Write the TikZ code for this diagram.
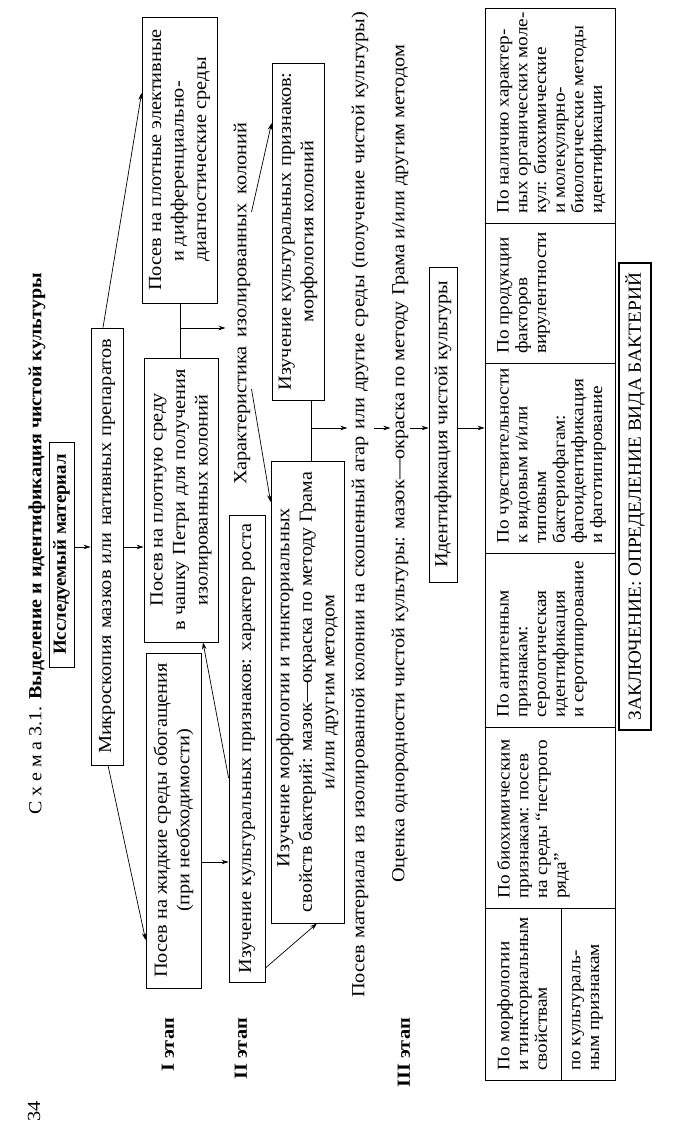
\documentclass[tikz,border=0pt]{standalone}
\usepackage{fontspec}
\usepackage{graphicx}
\setmainfont{Liberation Serif}[FakeStretch=1.1]
\usetikzlibrary{arrows.meta,calc}
\newsavebox\fitbx
\newcommand\fitto[2]{\sbox\fitbx{#2}\ifdim\wd\fitbx<#1\relax\makebox[#1][s]{#2}\else\resizebox{#1}{\ht\fitbx}{#2}\fi}
\begin{document}
\begin{tikzpicture}
\useasboundingbox (0,0) rectangle (676pt,1134pt);
\fill[white] (0,0) rectangle (676pt,1134pt);
\begin{scope}[x=1pt,y=-1pt,rotate=90,transform shape,
  box/.style={draw,line width=0.8pt,inner sep=0pt,align=center,font=\fontsize{18.5}{22.5}\selectfont},
  lbl/.style={inner sep=1pt,font=\fontsize{18.5}{22.5}\selectfont},
  tcell/.style={anchor=north west,inner sep=0pt,align=left,font=\fontsize{17.5}{18.7}\selectfont},
  arr/.style={-{Stealth[length=7pt,width=4.5pt]},line width=0.7pt},
  ln/.style={line width=0.7pt}]
% title and stages
\node[lbl] (title) at (590,37) {\fitto{542pt}{С х е м а 3.1. \textbf{Выделение и идентификация чистой культуры}}};
\node[lbl] (pg) at (22.5,34) {34};
\node[lbl,anchor=east,font=\fontsize{18.5}{22.5}\selectfont\bfseries] (st1) at (117,168) {I этап};
\node[lbl,anchor=east,font=\fontsize{18.5}{22.5}\selectfont\bfseries] (st2) at (117,241) {II этап};
\node[lbl,anchor=east,font=\fontsize{18.5}{22.5}\selectfont\bfseries] (st3) at (117,404) {III этап};
% boxes
\node[box,minimum width=225pt,minimum height=25pt,font=\fontsize{18.5}{22.5}\selectfont\bfseries] (ism) at (579.5,61.5) {\fitto{201pt}{Исследуемый материал}};
\node[box,minimum width=437pt,minimum height=32pt] (micro) at (587.5,107) {\fitto{415pt}{Микроскопия мазков или нативных препаратов}};
\node[box,minimum width=335pt,minimum height=55pt] (zhid) at (313.5,173.5) {\fitto{315pt}{Посев на жидкие среды обогащения}\\(при необходимости)};
\node[box,minimum width=284pt,minimum height=74pt] (petri) at (634,181) {Посев на плотную среду\\\fitto{262pt}{в чашку Петри для получения}\\изолированных колоний};
\node[box,align=left,minimum width=286pt,minimum height=75pt] (plot) at (974,179.5) {\fitto{262pt}{Посев на плотные элективные}\\\hspace*{29pt}и дифференциально-\\\hspace*{29pt}диагностические среды};
\node[box,minimum width=467pt,minimum height=36pt] (rost) at (385.5,247) {\fitto{450pt}{Изучение культуральных признаков: характер роста}};
\node[box,align=left,minimum width=462pt,minimum height=73pt] (morf) at (442,307.5) {\hspace*{45pt}Изучение морфологии и тинкториальных\\\fitto{440pt}{свойств бактерий: мазок—окраска по методу Грама}\\\makebox[440pt][c]{и/или другим методом}};
\node[box,minimum width=337pt,minimum height=52pt] (kol) at (902.5,298) {\fitto{318pt}{Изучение культуральных признаков:}\\морфология колоний};
\node[lbl] (har) at (830,242) {\fitto{362pt}{Характеристика изолированных колоний}};
\node[lbl] (posmat) at (629,360) {\fitto{986pt}{Посев материала из изолированной колонии на скошенный агар или другие среды (получение чистой культуры)}};
\node[lbl] (ocen) at (670,400) {\fitto{838pt}{Оценка однородности чистой культуры: мазок—окраска по методу Грама и/или другим методом}};
\node[box,minimum width=315pt,minimum height=28pt] (ident) at (709.5,443) {\fitto{287pt}{Идентификация чистой культуры}};
\node[box,line width=1.6pt,minimum width=467pt,minimum height=32pt] (zakl) at (637.5,635) {\fitto{447pt}{ЗАКЛЮЧЕНИЕ: ОПРЕДЕЛЕНИЕ ВИДА БАКТЕРИЙ}};
% table
\node[draw,line width=0.8pt,minimum width=1072pt,minimum height=130pt,inner sep=0pt] (tab) at (590,550) {};
\foreach \u in {226,407,581,771,911}{
  \coordinate (d) at (\u,0);
  \draw[ln] (d |- tab.north) -- (d |- tab.south);
}
\coordinate (w561) at (0,561);
\coordinate (d226) at (226,0);
\draw[ln] (tab.west |- w561) -- (d226 |- w561);
\node[tcell] (t1) at (63,497) {По морфологии\\и тинкториальным\\свойствам};
\node[tcell] (t1b) at (63,572) {по культураль-\\ным признакам};
\node[tcell] (t2) at (235,497) {По биохимическим\\признакам: посев\\на среды “пестрого\\ряда”};
\node[tcell] (t3) at (416,497) {По антигенным\\признакам:\\серологическая\\идентификация\\и серотипирование};
\node[tcell] (t4) at (590,497) {По чувствительности\\к видовым и/или\\типовым\\бактериофагам:\\фагоидентификация\\и фаготипирование};
\node[tcell] (t5) at (780,497) {По продукции\\факторов\\вирулентности};
\node[tcell] (t6) at (920,497) {По наличию характер-\\ных органических моле-\\кул: биохимические\\и молекулярно-\\биологические методы\\идентификации};
% connectors
\coordinate (k587) at (587,0);
\draw[arr] (k587 |- ism.south) -- (k587 |- micro.north);
\draw[arr] (k587 |- micro.south) -- (k587 |- petri.north);
\coordinate (w103) at (0,103);
\coordinate (k1041) at (1041,0);
\draw[arr] (micro.east |- w103) -- (k1041 |- plot.north);
\coordinate (w108) at (0,108);
\coordinate (k194) at (194,0);
\draw[arr] (micro.west |- w108) -- (k194 |- zhid.north);
\coordinate (k272) at (272,0);
\draw[arr] (k272 |- zhid.south) -- (k272 |- rost.north);
\coordinate (k356) at (356,0);
\coordinate (w203) at (0,203);
\draw[arr] (k356 |- rost.north) -- (petri.west |- w203);
\coordinate (k166) at (166,0);
\coordinate (w317) at (0,317);
\draw[arr] (k166 |- rost.south) -- (morf.west |- w317);
\coordinate (w180) at (0,180);
\draw[ln] (petri.east |- w180) -- (plot.west |- w180);
\coordinate (j1) at (806,180);
\draw[arr,shorten >=7pt] (j1) -- (j1 |- har.north);
\coordinate (k922) at (922,0);
\coordinate (k1011) at (1011,0);
\draw[arr] (k922 |- har.south) -- (k1011 |- kol.north);
\coordinate (k745) at (745,0);
\coordinate (k632) at (632,0);
\draw[arr] (k745 |- har.south) -- (k632 |- morf.north);
\coordinate (w311) at (0,311);
\draw[ln] (morf.east |- w311) -- (kol.west |- w311);
\coordinate (j2) at (706,311);
\draw[arr,shorten >=3pt] (j2) -- (j2 |- posmat.north);
\draw[arr,shorten <=4pt] (j2 |- posmat.south) -- (j2 |- ocen.north);
\draw[arr] (j2 |- ocen.south) -- (j2 |- ident.north);
\draw[arr] (j2 |- ident.south) -- (j2 |- tab.north);
\end{scope}
\end{tikzpicture}
\end{document}
